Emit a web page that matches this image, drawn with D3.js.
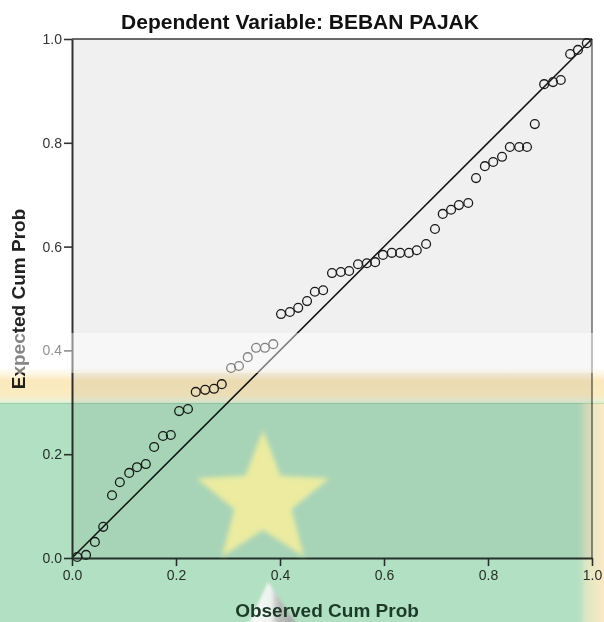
<!DOCTYPE html>
<html>
<head>
<meta charset="utf-8">
<script src="https://cdn.jsdelivr.net/npm/d3@7"></script>
<style>
  html, body { margin: 0; padding: 0; background: #ffffff; }
  svg { display: block; }
</style>
</head>
<body>
<div id="chart"></div>
<script>
// ---- data ----
const titleText = "Dependent Variable: BEBAN PAJAK";
const xLabel = "Observed Cum Prob";
const yLabel = "Expected Cum Prob";
const tickValues = [0, 0.2, 0.4, 0.6, 0.8, 1.0];
const observed = [0.010,0.027,0.044,0.060,0.077,0.092,0.110,0.125,0.142,0.158,
  0.175,0.190,0.206,0.223,0.238,0.256,0.273,0.288,0.306,0.321,
  0.338,0.354,0.371,0.387,0.402,0.419,0.435,0.452,0.467,0.483,
  0.500,0.517,0.533,0.550,0.567,0.583,0.598,0.615,0.631,0.648,
  0.663,0.681,0.698,0.713,0.729,0.744,0.762,0.777,0.794,0.810,
  0.827,0.842,0.860,0.875,0.890,0.908,0.925,0.940,0.958,0.973,0.990];
const expected = [0.002,0.006,0.031,0.060,0.121,0.146,0.164,0.175,0.181,0.214,
  0.235,0.237,0.283,0.287,0.320,0.324,0.326,0.335,0.366,0.370,
  0.387,0.405,0.405,0.412,0.470,0.474,0.482,0.495,0.513,0.516,
  0.549,0.551,0.553,0.566,0.568,0.570,0.584,0.588,0.588,0.588,
  0.593,0.605,0.634,0.663,0.671,0.680,0.684,0.732,0.755,0.763,
  0.773,0.792,0.792,0.792,0.836,0.913,0.917,0.921,0.971,0.979,0.992];
const points = observed.map((o, i) => ({o, e: expected[i]}));

// ---- layout ----
const W = 604, H = 622;
const svg = d3.select("#chart").append("svg").attr("width", W).attr("height", H);
const x = d3.scaleLinear().domain([0, 1]).range([72, 592]);
const y = d3.scaleLinear().domain([0, 1]).range([558, 39]);

const defs = svg.append("defs");
const blur = defs.append("filter").attr("id", "blur").attr("x", "-20%").attr("y", "-20%").attr("width", "140%").attr("height", "140%");
blur.append("feGaussianBlur").attr("stdDeviation", 2.6);
const blurSmall = defs.append("filter").attr("id", "blurSmall").attr("x", "-20%").attr("y", "-20%").attr("width", "140%").attr("height", "140%");
blurSmall.append("feGaussianBlur").attr("stdDeviation", 1.5);

const yellowGrad = defs.append("linearGradient").attr("id", "yellowBand").attr("x1", 0).attr("y1", 0).attr("x2", 0).attr("y2", 1);
yellowGrad.append("stop").attr("offset", 0).attr("stop-color", "#ffffff");
yellowGrad.append("stop").attr("offset", 0.2).attr("stop-color", "#fdf4dc");
yellowGrad.append("stop").attr("offset", 0.35).attr("stop-color", "#fbe9bd");
yellowGrad.append("stop").attr("offset", 0.75).attr("stop-color", "#faebc2");
yellowGrad.append("stop").attr("offset", 0.9).attr("stop-color", "#eef1d4");
yellowGrad.append("stop").attr("offset", 1).attr("stop-color", "#d2ecd8");

const greenGrad = defs.append("linearGradient").attr("id", "greenRight").attr("x1", 0).attr("y1", 0).attr("x2", 1).attr("y2", 0);
greenGrad.append("stop").attr("offset", 0).attr("stop-color", "#b7e4c7");
greenGrad.append("stop").attr("offset", 0.955).attr("stop-color", "#b7e4c7");
greenGrad.append("stop").attr("offset", 0.975).attr("stop-color", "#e4e7c4");
greenGrad.append("stop").attr("offset", 1).attr("stop-color", "#fbe9c4");

const shapeGrad = defs.append("linearGradient").attr("id", "shapeGrad").attr("x1", 0).attr("y1", 0).attr("x2", 1).attr("y2", 0);
shapeGrad.append("stop").attr("offset", 0).attr("stop-color", "#ffffff");
shapeGrad.append("stop").attr("offset", 0.45).attr("stop-color", "#f6f6f6");
shapeGrad.append("stop").attr("offset", 0.6).attr("stop-color", "#bdbdbd");
shapeGrad.append("stop").attr("offset", 1).attr("stop-color", "#a0a0a0");

// background
svg.append("rect").attr("width", W).attr("height", H).attr("fill", "#ffffff");
svg.append("rect")
  .attr("x", x(0)).attr("y", y(1))
  .attr("width", x(1) - x(0)).attr("height", y(0) - y(1))
  .attr("fill", "#f0f0f0");

// frame (top & right)
svg.append("line").attr("x1", x(0)).attr("x2", x(1)).attr("y1", y(1)).attr("y2", y(1))
  .attr("stroke", "#3a3a3a").attr("stroke-width", 1.6);
svg.append("line").attr("x1", x(1)).attr("x2", x(1)).attr("y1", y(1)).attr("y2", y(0))
  .attr("stroke", "#555").attr("stroke-width", 1.3);

// reference diagonal
svg.append("line")
  .attr("x1", x(0)).attr("y1", y(0)).attr("x2", x(1)).attr("y2", y(1))
  .attr("stroke", "#111").attr("stroke-width", 1.5);

// points
svg.append("g").selectAll("circle").data(points).join("circle")
  .attr("cx", d => x(d.o)).attr("cy", d => y(d.e)).attr("r", 4.4)
  .attr("fill", "none").attr("stroke", "#1a1a1a").attr("stroke-width", 1.3);

// axes
const fmt = d3.format(".1f");
const gy = svg.append("g").attr("transform", `translate(${x(0)},0)`)
  .call(d3.axisLeft(y).tickValues(tickValues).tickFormat(fmt).tickSize(8).tickSizeOuter(0).tickPadding(2));
const gx = svg.append("g").attr("transform", `translate(0,${y(0)})`)
  .call(d3.axisBottom(x).tickValues(tickValues).tickFormat(fmt).tickSize(8).tickSizeOuter(0).tickPadding(4));
[gy, gx].forEach(g => {
  g.select(".domain").attr("stroke", "#333").attr("stroke-width", 2);
  g.selectAll(".tick line").attr("stroke", "#333").attr("stroke-width", 1.6);
  g.selectAll(".tick text").attr("fill", "#333")
    .style("font-family", "'Liberation Sans', Arial, sans-serif").style("font-size", "14px");
});

// title & y label
svg.append("text").attr("x", 300).attr("y", 29).attr("text-anchor", "middle")
  .style("font-family", "'Liberation Sans', Arial, sans-serif").style("font-size", "21px").style("font-weight", "bold")
  .attr("fill", "#111").text(titleText);
svg.append("text").attr("transform", "translate(25,299) rotate(-90)").attr("text-anchor", "middle")
  .style("font-family", "'Liberation Sans', Arial, sans-serif").style("font-size", "19px").style("font-weight", "bold")
  .attr("fill", "#222").text(yLabel);

// ---- watermark overlay ----
const wm = svg.append("g");
wm.append("rect").attr("x", 0).attr("y", 333).attr("width", W).attr("height", 40)
  .attr("fill", "#ffffff").attr("opacity", 0.45);
wm.append("rect").attr("x", 0).attr("y", 368).attr("width", W).attr("height", 36)
  .attr("fill", "url(#yellowBand)").style("mix-blend-mode", "multiply");
wm.append("rect").attr("x", 0).attr("y", 403).attr("width", W).attr("height", H - 403)
  .attr("fill", "url(#greenRight)").style("mix-blend-mode", "multiply");
wm.append("rect").attr("x", 0).attr("y", 403).attr("width", 583).attr("height", H - 403)
  .attr("fill", "#2f7a4e").attr("opacity", 0.03);

// star
const cx = 263, cy = 500, R = 70, r = 30;
const starPts = d3.range(10).map(i => {
  const a = -Math.PI / 2 + i * Math.PI / 5;
  const rr = i % 2 === 0 ? R : r;
  return [cx + rr * Math.cos(a), cy + rr * Math.sin(a)];
});
wm.append("polygon").attr("points", starPts.map(p => p.join(",")).join(" "))
  .attr("fill", "#f2ee9f").attr("opacity", 0.92).attr("filter", "url(#blur)");

// bottom shape
wm.append("polygon").attr("points", "268,582 248,626 298,626")
  .attr("fill", "url(#shapeGrad)").attr("opacity", 0.9).attr("filter", "url(#blurSmall)");

// x label (on top, tinted like the overlay)
svg.append("text").attr("x", 327).attr("y", 617).attr("text-anchor", "middle")
  .style("font-family", "'Liberation Sans', Arial, sans-serif").style("font-size", "19px").style("font-weight", "bold")
  .attr("fill", "#1c3a28").text(xLabel);
</script>
</body>
</html>
